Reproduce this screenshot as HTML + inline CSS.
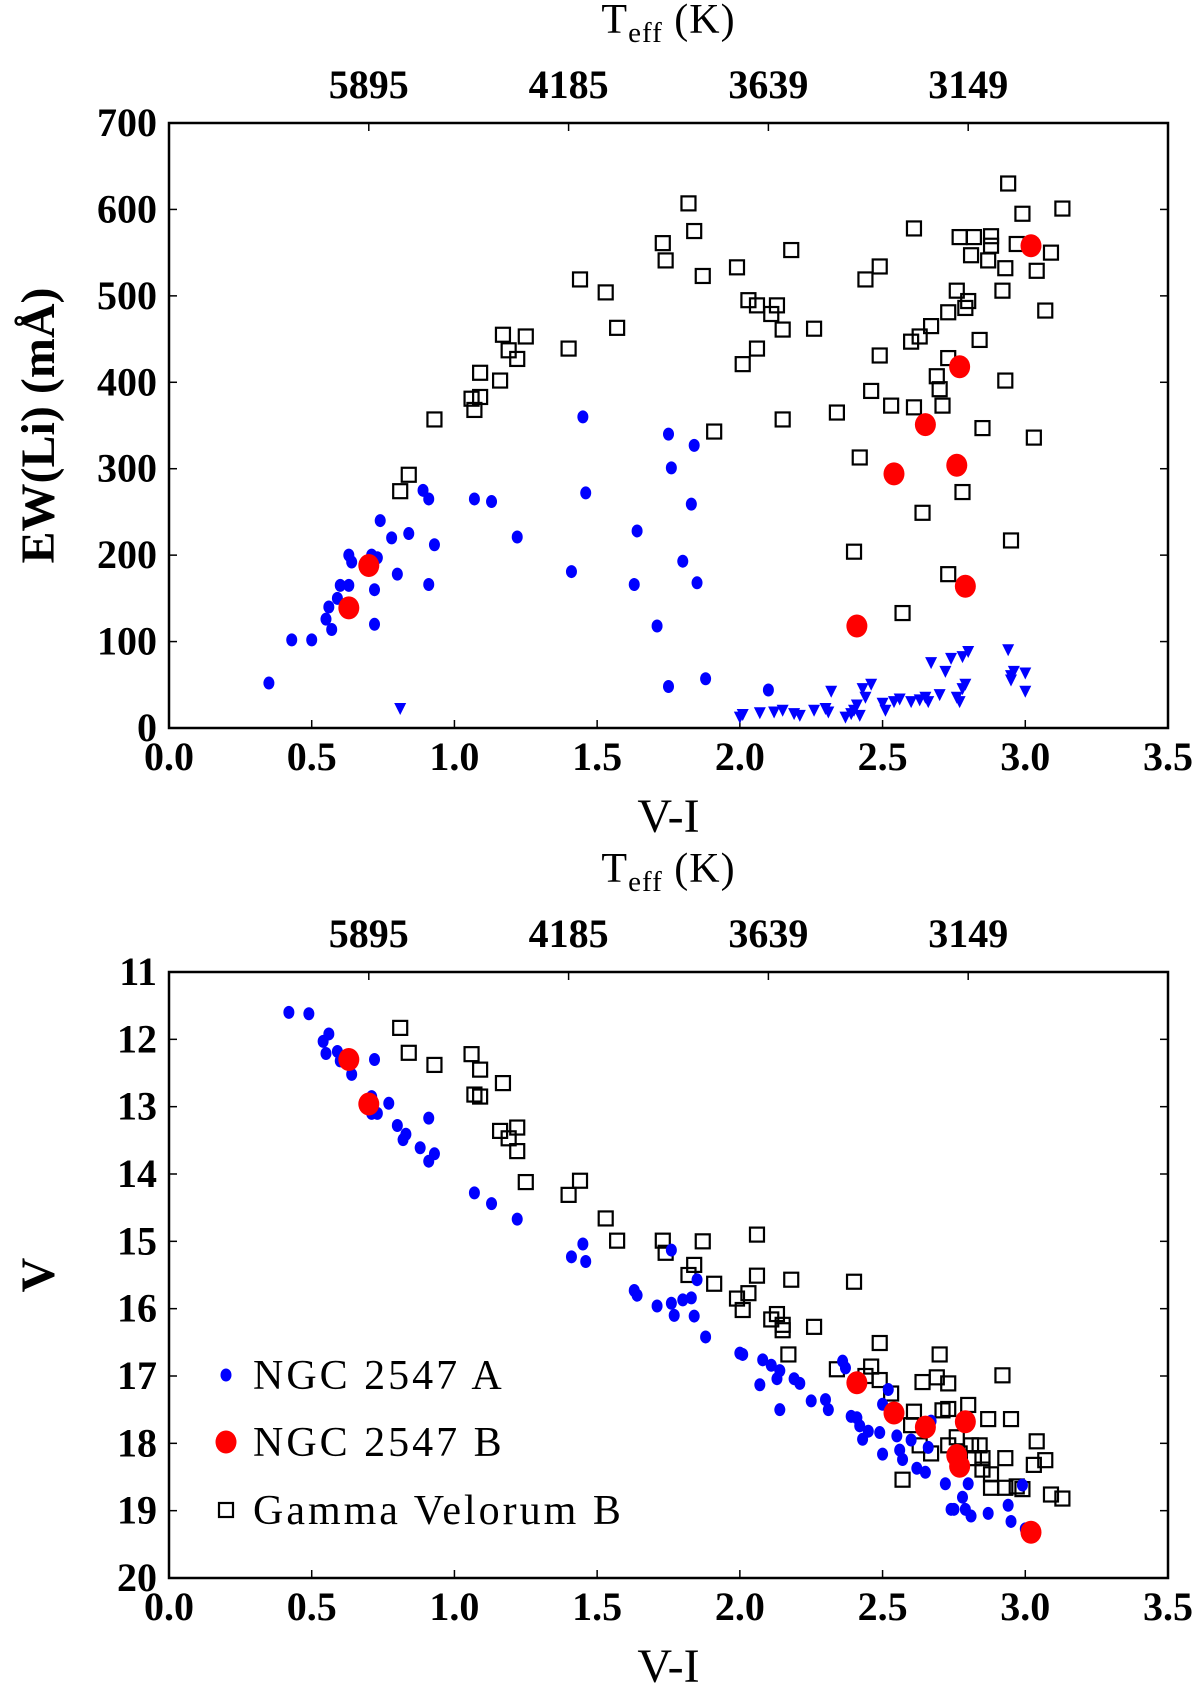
<!DOCTYPE html>
<html><head><meta charset="utf-8"><style>
html,body{margin:0;padding:0;background:#fff;}
svg{display:block;font-family:"Liberation Serif","DejaVu Serif",serif;}
</style></head><body>
<svg id="fig" width="1200" height="1688" viewBox="0 0 1200 1688"></svg>
<script>
// ===== Data =====
const xTicks = [0.0,0.5,1.0,1.5,2.0,2.5,3.0,3.5];
const teffTickPos = [0.7,1.4,2.1,2.8];
const teffTickLabels = ["5895","4185","3639","3149"];
const ewTicks = [0,100,200,300,400,500,600,700];
const vTicks = [11,12,13,14,15,16,17,18,19,20];

// Top panel: EW(Li) vs V-I
const ewA_x = [0.35,0.43,0.5,0.55,0.56,0.57,0.59,0.6,0.63,0.63,0.64,0.71,0.72,0.72,0.74,0.78,0.8,0.84,0.89,0.91,0.91,0.93,1.07,1.13,1.22,1.41,1.45,1.46,1.63,1.64,1.71,1.75,1.75,1.76,1.8,1.83,1.84,1.85,1.88,2.1,0.73];
const ewA_y = [52,102,102,126,140,114,150,165,165,200,192,200,160,120,240,220,178,225,275,265,166,212,265,262,221,181,360,272,166,228,118,340,48,301,193,259,327,168,57,44,197];
const ewLim_x = [0.81,2.0,2.01,2.07,2.12,2.15,2.19,2.21,2.26,2.3,2.31,2.32,2.37,2.39,2.4,2.41,2.42,2.43,2.44,2.46,2.5,2.51,2.54,2.56,2.6,2.63,2.65,2.66,2.67,2.7,2.72,2.74,2.76,2.77,2.78,2.79,2.8,2.78,2.94,2.95,2.95,2.96,3.0,3.0];
const ewLim_y = [22,12,15,17,18,20,16,14,20,22,18,42,12,16,20,26,14,45,35,50,28,20,30,33,30,32,35,30,75,38,65,80,35,30,45,50,88,82,90,60,55,65,63,42];
const ewB_x = [0.63,0.7,2.41,2.54,2.65,2.77,2.76,2.79,3.02];
const ewB_y = [139,188,118,294,351,418,304,164,558];
const ewG_x = [0.81,0.84,0.93,1.06,1.07,1.09,1.09,1.16,1.17,1.19,1.22,1.25,1.40,1.44,1.53,1.57,1.73,1.74,1.82,1.84,1.87,1.91,1.99,2.01,2.03,2.06,2.06,2.11,2.13,2.15,2.15,2.18,2.26,2.34,2.42,2.40,2.44,2.46,2.49,2.49,2.53,2.57,2.60,2.61,2.61,2.63,2.64,2.67,2.69,2.70,2.71,2.73,2.73,2.73,2.76,2.77,2.78,2.79,2.80,2.81,2.82,2.84,2.85,2.87,2.88,2.88,2.92,2.93,2.93,2.94,2.95,2.97,2.99,3.03,3.04,3.07,3.09,3.13];
const ewG_y = [274,293,357,381,368,383,411,402,455,437,427,453,439,519,504,463,561,541,607,575,523,343,533,421,495,489,439,479,489,461,357,553,462,365,313,204,519,390,534,431,373,133,447,578,371,453,249,465,407,392,373,428,481,178,506,568,273,486,494,547,568,449,347,541,558,569,506,402,532,630,217,560,595,336,529,483,550,601];

// Bottom panel: V vs V-I
const vA_x = [0.42,0.49,0.56,0.54,0.55,0.59,0.6,0.64,0.72,0.71,0.71,0.73,0.77,0.8,0.82,0.83,0.88,0.91,0.91,0.93,1.07,1.13,1.22,1.41,1.45,1.46,1.63,1.64,1.71,1.76,1.76,1.77,1.8,1.83,1.84,1.85,1.88,2.0,2.01,2.07,2.08,2.11,2.13,2.14,2.14,2.19,2.21,2.25,2.3,2.31,2.36,2.37,2.39,2.41,2.42,2.43,2.45,2.49,2.5,2.5,2.52,2.55,2.56,2.57,2.6,2.62,2.65,2.66,2.67,2.72,2.74,2.75,2.78,2.79,2.8,2.81,2.87,2.94,2.95,2.99,3.0];
const vA_y = [11.6,11.62,11.92,12.03,12.21,12.18,12.32,12.52,12.3,12.85,13.1,13.1,12.95,13.28,13.49,13.41,13.61,13.17,13.81,13.7,14.28,14.44,14.67,15.23,15.04,15.3,15.73,15.8,15.96,15.13,15.92,16.1,15.87,15.84,16.11,15.57,16.42,16.66,16.68,17.13,16.76,16.84,17.04,16.92,17.5,17.04,17.11,17.37,17.35,17.5,16.78,16.88,17.6,17.62,17.74,17.94,17.82,17.84,18.16,17.42,17.2,17.89,18.1,18.24,17.95,18.37,18.43,18.06,17.67,18.6,18.98,18.98,18.8,18.98,18.6,19.08,19.04,18.92,19.16,18.62,19.27];
const vB_x = [0.63,0.70,2.41,2.54,2.65,2.79,2.76,2.77,3.02];
const vB_y = [12.3,12.96,17.1,17.55,17.76,17.68,18.18,18.34,19.32];
const vG_x = [0.81,0.84,0.93,1.06,1.09,1.07,1.09,1.17,1.16,1.19,1.22,1.22,1.25,1.40,1.44,1.53,1.57,1.73,1.74,1.82,1.84,1.87,1.91,1.99,2.01,2.03,2.06,2.06,2.11,2.13,2.15,2.15,2.17,2.18,2.26,2.34,2.40,2.44,2.46,2.49,2.49,2.53,2.57,2.60,2.61,2.63,2.64,2.67,2.69,2.70,2.71,2.73,2.73,2.73,2.76,2.77,2.80,2.81,2.82,2.84,2.85,2.85,2.87,2.88,2.88,2.92,2.93,2.93,2.95,2.97,2.99,3.03,3.04,3.07,3.09,3.13];
const vG_y = [11.83,12.2,12.38,12.22,12.45,12.82,12.85,12.65,13.36,13.47,13.31,13.66,14.12,14.31,14.1,14.66,14.99,14.99,15.17,15.5,15.35,15.0,15.63,15.85,16.02,15.77,15.51,14.9,16.16,16.08,16.32,16.24,16.68,15.57,16.27,16.9,15.6,17.0,16.86,16.51,17.06,17.26,18.54,17.73,17.53,18.03,17.09,18.15,17.02,16.68,17.51,17.11,17.49,18.03,17.91,18.15,17.43,18.03,18.22,18.03,18.22,18.39,17.64,18.46,18.66,16.99,18.22,18.66,17.64,18.64,18.68,18.32,17.97,18.25,18.76,18.82];

// ===== Layout =====
const NS = "http://www.w3.org/2000/svg";
const svg = document.getElementById('fig');
const L = 169, R = 1168;
function el(tag, attrs, parent){ const e=document.createElementNS(NS,tag); for(const k in attrs) e.setAttribute(k,attrs[k]); (parent||svg).appendChild(e); return e; }
function xScale(v){ return L + (v-0)/(3.5-0)*(R-L); }

function panel(top, bottom, yMin, yMax, invert, yTicks, yTitle, name){
  const g = el('g',{});
  
  
  const ys = v => invert ? top + (v-yMin)/(yMax-yMin)*(bottom-top) : bottom - (v-yMin)/(yMax-yMin)*(bottom-top);
  const frame = el('rect',{x:L,y:top,width:R-L,height:bottom-top,fill:'none',stroke:'#000','stroke-width':2.5},g);
  
  
  xTicks.forEach(t=>{
    const x = xScale(t);
    el('line',{x1:x,x2:x,y1:bottom,y2:bottom-8,stroke:'#000','stroke-width':1.5},g);
    const tx = el('text',{x:x,y:bottom+42,'font-size':40,'font-weight':'bold','text-anchor':'middle'},g);
    tx.textContent = t.toFixed(1);
    
    
  });
  teffTickPos.forEach((t,i)=>{
    const x = xScale(t);
    el('line',{x1:x,x2:x,y1:top,y2:top+8,stroke:'#000','stroke-width':1.5},g);
    const tx = el('text',{x:x,y:top-25,'font-size':40,'font-weight':'bold','text-anchor':'middle'},g);
    tx.textContent = teffTickLabels[i];
    
    
  });
  yTicks.forEach(t=>{
    const y = ys(t);
    el('line',{x1:L,x2:L+8,y1:y,y2:y,stroke:'#000','stroke-width':1.5},g);
    el('line',{x1:R,x2:R-8,y1:y,y2:y,stroke:'#000','stroke-width':1.5},g);
    const tx = el('text',{x:L-12,y:y+13,'font-size':40,'font-weight':'bold','text-anchor':'end'},g);
    tx.textContent = String(t);
    
    
  });
  const tt = el('text',{x:(L+R)/2,y:top-90,'font-size':42,'text-anchor':'middle','letter-spacing':1},g);
  tt.innerHTML = 'T<tspan font-size="29" dy="9">eff</tspan><tspan dy="-9"> (K)</tspan>';
  
  
  const xt = el('text',{x:(L+R)/2,y:bottom+104,'font-size':48,'text-anchor':'middle'},g);
  xt.textContent = 'V-I';
  
  
  const cy = (top+bottom)/2;
  const yt = el('text',{x:0,y:0,'font-size':48,'text-anchor':'middle','font-weight':'bold',transform:`translate(54,${cy}) rotate(-90)`},g);
  yt.textContent = yTitle;
  
  
  return {g, ys};
}

function squares(p, xs, ys, name){
  xs.forEach((v,i)=>{
    const x=xScale(v), y=p.ys(ys[i]);
    const r = el('rect',{x:x-7,y:y-7,width:14,height:14,fill:'none',stroke:'#000','stroke-width':2.2},p.g);
    
    
  });
}
function dots(p, xs, ys, rx, ry, color, name){
  xs.forEach((v,i)=>{
    const c = el('ellipse',{cx:xScale(v),cy:p.ys(ys[i]),rx:rx,ry:ry,fill:color},p.g);
    
    
  });
}
function tris(p, xs, ys, name){
  xs.forEach((v,i)=>{
    const x=xScale(v), y=p.ys(ys[i]);
    const t = el('polygon',{points:`${x-6},${y-6} ${x+6},${y-6} ${x},${y+6}`,fill:'#0000ff'},p.g);
    
    
  });
}

const top1 = panel(123, 728, 0, 700, false, ewTicks, 'EW(Li) (mÅ)', 'ew-li-panel');
squares(top1, ewG_x, ewG_y, 'gamma-vel-b-point');
dots(top1, ewA_x, ewA_y, 5.5, 6.5, '#0000ff', 'ngc2547-a-point');
tris(top1, ewLim_x, ewLim_y, 'ngc2547-a-upper-limit');
dots(top1, ewB_x, ewB_y, 10.5, 11.5, '#ff0000', 'ngc2547-b-point');

const bot = panel(972, 1578, 11, 20, true, vTicks, 'V', 'cmd-panel');
squares(bot, vG_x, vG_y, 'gamma-vel-b-point');
dots(bot, vA_x, vA_y, 5.5, 6.5, '#0000ff', 'ngc2547-a-point');
dots(bot, vB_x, vB_y, 10.5, 11.5, '#ff0000', 'ngc2547-b-point');

const lg = el('g',{});


const ly = [1375, 1442, 1510];
const labels = ['NGC 2547 A','NGC 2547 B','Gamma Velorum B'];
el('ellipse',{cx:226,cy:ly[0],rx:5.5,ry:6.5,fill:'#0000ff'},lg);
el('ellipse',{cx:226,cy:ly[1],rx:10.5,ry:11.5,fill:'#ff0000'},lg);
el('rect',{x:219,y:ly[2]-7,width:14,height:14,fill:'none',stroke:'#000','stroke-width':2.2},lg);
labels.forEach((s,i)=>{
  const t = el('text',{x:253,y:ly[i]+14,'font-size':42,'letter-spacing':3},lg);
  t.textContent = s;
  
  
});
</script>
</body></html>
